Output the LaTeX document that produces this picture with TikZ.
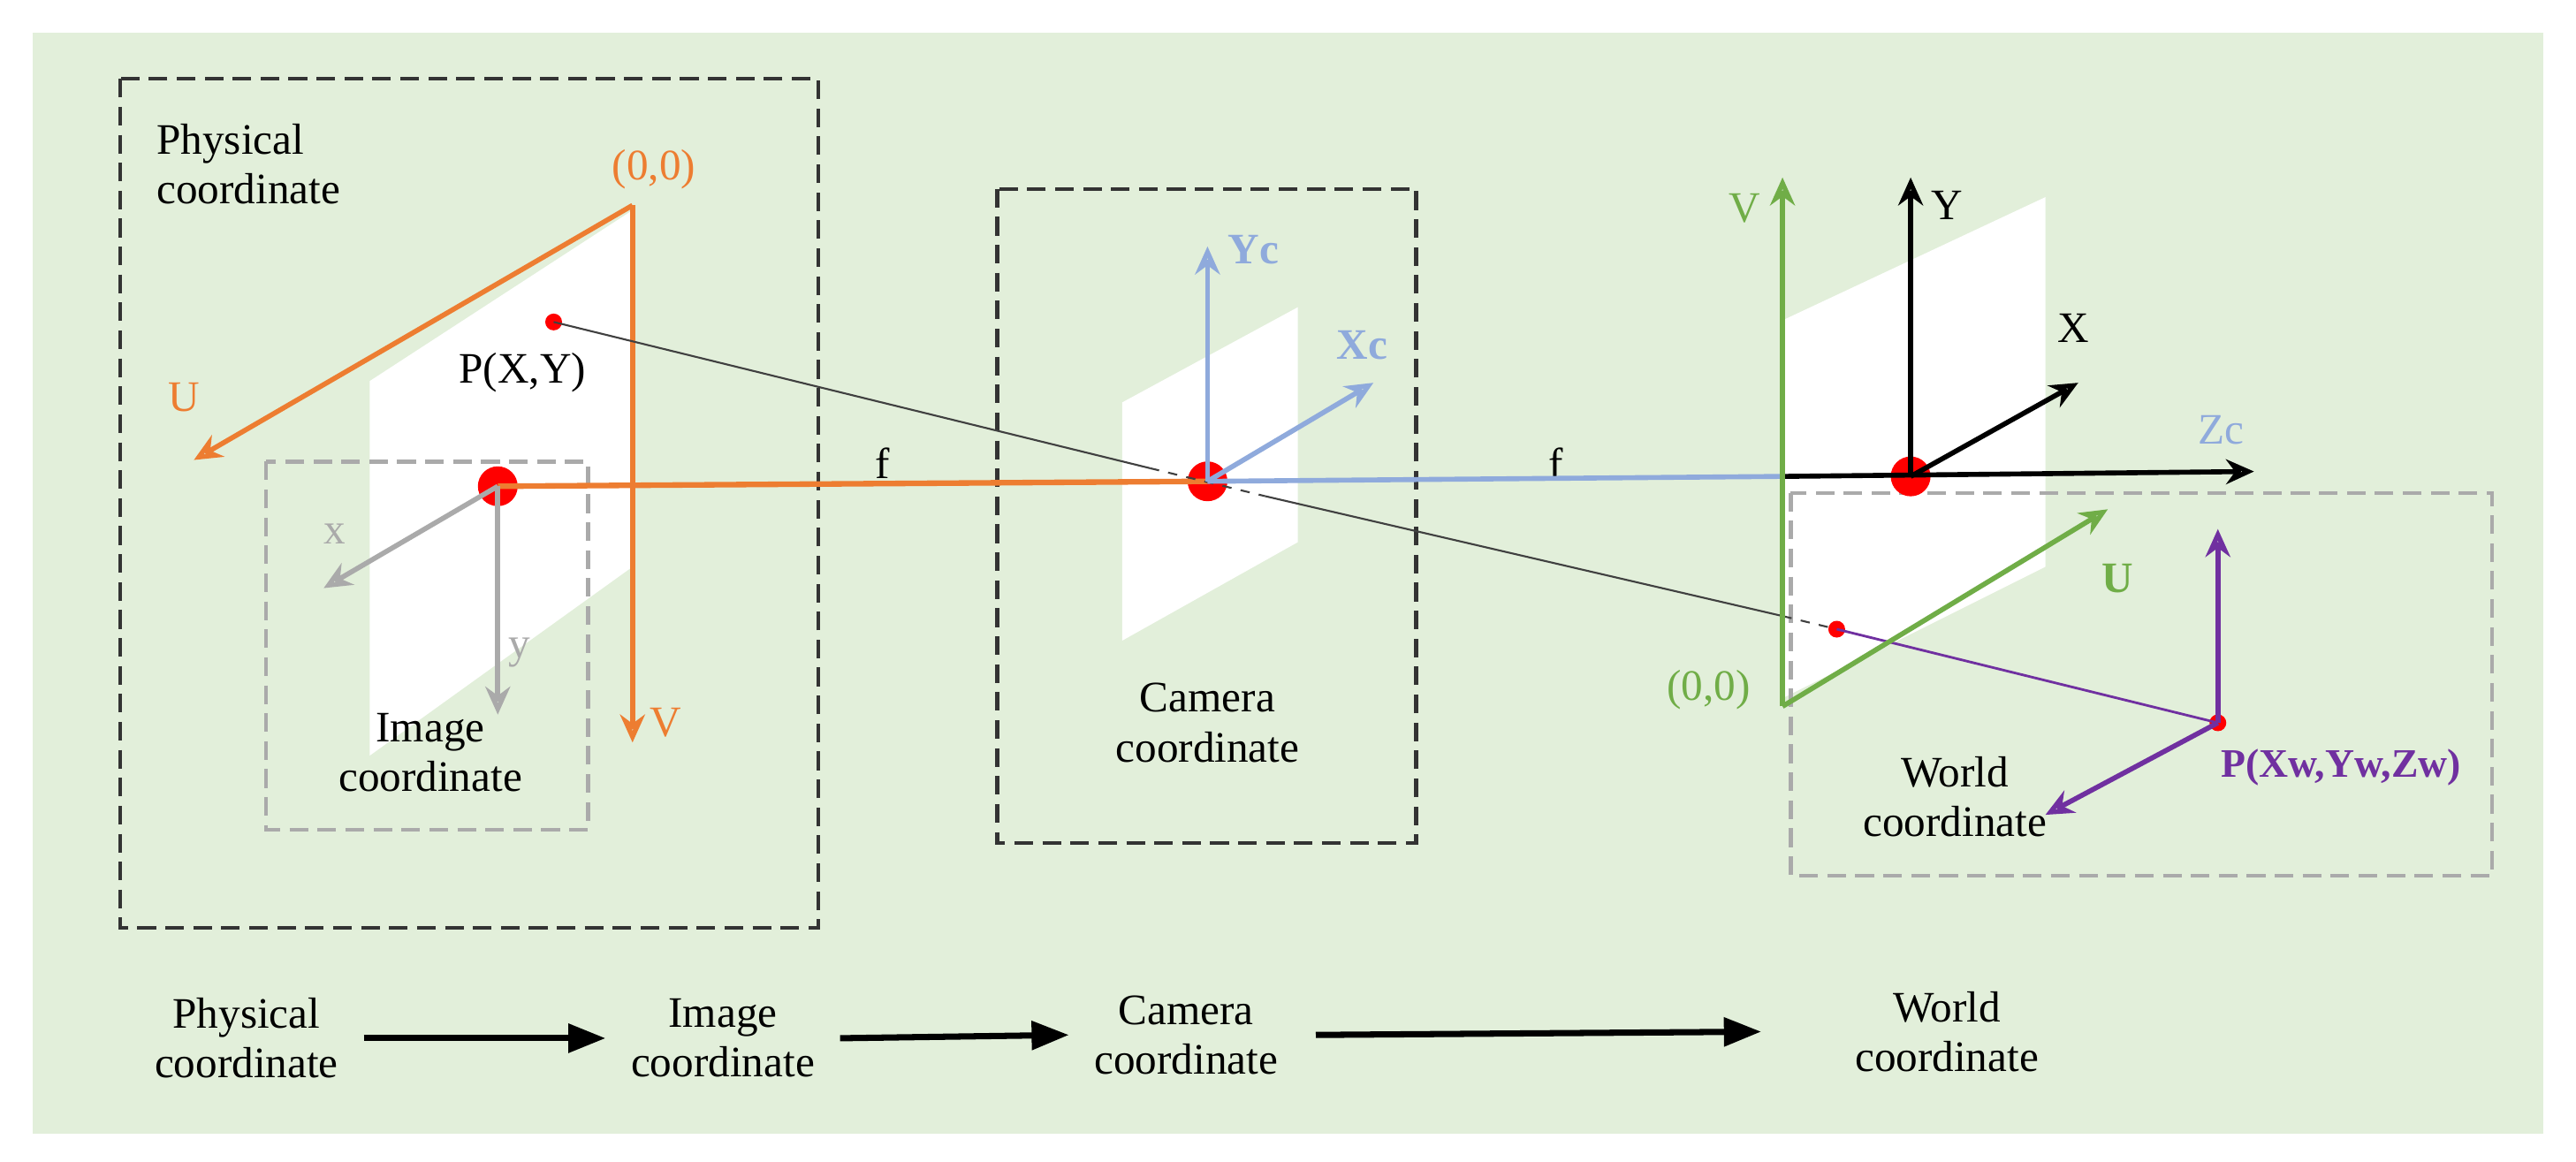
\documentclass[tikz,border=0pt]{standalone}
\usepackage{fontspec}
\setmainfont{Liberation Serif}
\usetikzlibrary{arrows.meta}
\definecolor{bg}{HTML}{E2EFDA}
\definecolor{org}{HTML}{ED7D31}
\definecolor{blu}{HTML}{8FAADC}
\definecolor{grn}{HTML}{70AD47}
\definecolor{pur}{HTML}{7030A0}
\definecolor{gry}{HTML}{AAAAAA}
\begin{document}
\begin{tikzpicture}[x=0.01859cm,y=-0.01859cm,
 txt/.style={font=\fontsize{14}{16}\selectfont,align=center,inner sep=0},
 ax/.style={line width=1.6pt,-{Stealth[length=9pt,width=8pt,open]}},
 box/.style={dashed,line width=1.2pt,dash pattern=on 6pt off 3pt},
 plane/.style={fill=white,draw=none},
 rdot/.style={circle,fill=red,inner sep=0}]
\useasboundingbox (0,0) rectangle (1568,707);
\fill[bg] (20,20) rectangle (1548,690);
% planes
\fill[plane] (225,232)--(385,128)--(385,345)--(225,460)--cycle;
\fill[plane] (683,245)--(790,187)--(790,330)--(683,390)--cycle;
\fill[plane] (1085,195)--(1245,120)--(1245,345)--(1085,425)--cycle;
% boxes
\draw[box,black!80] (73,48) rectangle (498,565);
\draw[box,black!80] (607,115) rectangle (862,513);
\draw[box,gry] (162,281) rectangle (358,505);
\draw[box,gry] (1090,300) rectangle (1517,533);
% nodes
\node[rdot,minimum size=0.45cm] (o1) at (303,296) {};
\node[rdot,minimum size=0.45cm] (oc) at (735,293) {};
\node[rdot,minimum size=0.45cm] (ow) at (1163,290) {};
\node[rdot,minimum size=0.19cm] (p1) at (337,196) {};
\node[rdot,minimum size=0.19cm] (p2) at (1118,383) {};
\node[rdot,minimum size=0.19cm] (pw) at (1350,440) {};
\coordinate (po) at (385,125);
\coordinate (go) at (1085,430);
\coordinate (zs) at (1085,290);
% orange
\draw[ax,org] (po)--(118,280);
\draw[ax,org] (po)--(385,452);
\draw[org,line width=1.8pt] (o1.center)--(oc.center);
\node[txt,org] at (398,103) {(0,0)};
\node[txt,org] at (112,242) {U};
\node[txt,org] at (405,440) {V};
% gray
\draw[ax,gry] (o1.center)--(197,358);
\draw[ax,gry] (o1.center)--(303,435);
\node[txt,gry] at (204,325) {x};
\node[txt,gry] at (316,397) {y};
% ray
\draw[black!75,line width=0.6pt] (p1.center)--(700,285);
\draw[black!75,line width=0.6pt,dashed] (700,285)--(770,302);
\draw[black!75,line width=0.6pt] (770,302)--(1085,375);
\draw[black!75,line width=0.6pt,dashed] (1085,375)--(p2.center);
\draw[pur,line width=0.8pt] (p2.center)--(pw.center);
\node[txt] at (318,227) {P(X,Y)};
\node[txt] at (537,282) {f};
\node[txt] at (947,282) {f};
% camera
\draw[ax,blu] (oc.center)--(735,150);
\draw[ax,blu] (oc.center)--(836,233);
\node[txt,blu,font=\fontsize{14}{16}\selectfont\bfseries] at (763,152) {Yc};
\node[txt,blu,font=\fontsize{14}{16}\selectfont\bfseries] at (829,210) {Xc};
\draw[blu,line width=1.6pt] (oc.center)--(zs);
\draw[ax,black] (zs)--(1372,287);
\node[txt,blu] at (1352,262) {Zc};
% world
\draw[ax,grn] (go)--(1085,108);
\draw[ax,grn] (go)--(1283,310);
\node[txt,grn] at (1062,127) {V};
\node[txt,grn,font=\fontsize{14}{16}\selectfont\bfseries] at (1289,352) {U};
\node[txt,grn] at (1040,420) {(0,0)};
\draw[ax,black] (ow.center)--(1163,108);
\draw[ax,black] (ow.center)--(1265,233);
\node[txt] at (1185,125) {Y};
\node[txt] at (1262,200) {X};
\draw[ax,pur] (pw.center)--(1350,322);
\draw[ax,pur] (pw.center)--(1245,496);
\node[txt,pur,font=\fontsize{13}{16}\selectfont\bfseries] at (1425,467) {P(Xw,Yw,Zw)};
% labels
\node[txt,align=left,anchor=west] at (95,100) {Physical\\coordinate};
\node[txt] at (262,458) {Image\\coordinate};
\node[txt] at (735,440) {Camera\\coordinate};
\node[txt] at (1190,485) {World\\coordinate};
% bottom flow
\node[txt] (b1) at (150,632) {Physical\\coordinate};
\node[txt] (b2) at (440,632) {Image\\coordinate};
\node[txt] (b3) at (722,630) {Camera\\coordinate};
\node[txt] (b4) at (1185,628) {World\\coordinate};
\tikzset{fl/.style={line width=2pt,-{Triangle[length=12pt,width=9pt]}}}
\draw[fl] ([xshift=8pt]b1.east) -- ([xshift=-8pt]b2.west);
\draw[fl] ([xshift=8pt]b2.east) -- ([xshift=-8pt]b3.west);
\draw[fl] ([xshift=12pt]b3.east) -- ([xshift=-30pt]b4.west);
\end{tikzpicture}
\end{document}
